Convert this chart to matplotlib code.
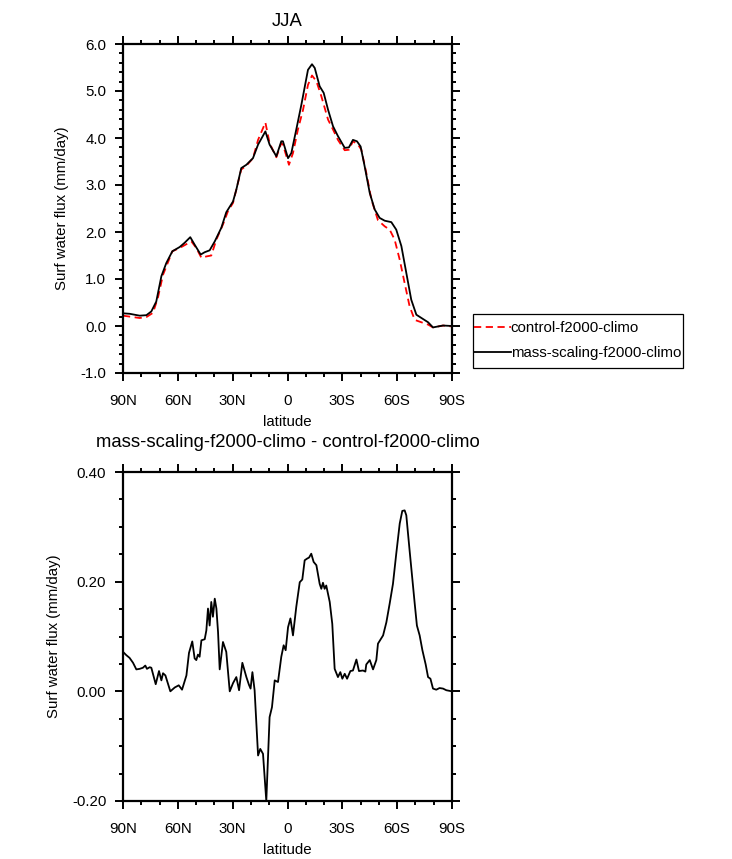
import matplotlib
matplotlib.use('Agg')
import matplotlib.pyplot as plt
from matplotlib.patches import Rectangle
from matplotlib.ticker import MultipleLocator, FormatStrFormatter

plt.rcParams['font.family'] = ['Liberation Sans', 'DejaVu Sans']

# latitude (deg, + is north) and surface water flux (mm/day)
lat_mass = [90.0, 86.4, 80.9, 77.2, 74.5, 71.8, 69.0, 66.3, 63.0, 59.0, 56.3, 53.2,
            50.8, 47.5, 45.3, 42.6, 39.8, 36.2, 33.5, 29.8, 28.0, 25.3, 22.5, 18.9,
            16.1, 12.1, 9.8, 6.1, 3.4, 2.5, -0.3, -2.1, -4.8, -7.6, -11.2, -13.4,
            -14.9, -17.6, -19.8, -22.2, -24.9, -27.6, -31.3, -33.6, -35.8, -38.0,
            -40.0, -42.2, -45.0, -47.7, -50.4, -53.2, -56.8, -59.5, -62.3, -65.0,
            -67.7, -70.5, -74.1, -76.9, -79.6, -82.3, -85.1, -90.0]
flux_mass = [0.27, 0.26, 0.22, 0.23, 0.31, 0.52, 1.06, 1.34, 1.59, 1.68, 1.77, 1.89,
             1.73, 1.52, 1.57, 1.61, 1.80, 2.09, 2.42, 2.65, 2.90, 3.36, 3.43, 3.57,
             3.86, 4.14, 3.86, 3.61, 3.93, 3.93, 3.57, 3.68, 4.18, 4.71, 5.45, 5.57,
             5.49, 5.10, 4.96, 4.60, 4.25, 4.04, 3.79, 3.80, 3.96, 3.93,
             3.82, 3.40, 2.83, 2.48, 2.30, 2.24, 2.21, 2.05, 1.70, 1.13,
             0.56, 0.24, 0.15, 0.08, -0.03, -0.01, 0.01, 0.0]

lat_ctrl = [90.0, 80.9, 77.2, 73.6, 70.9, 68.1, 63.0, 59.0, 52.6, 49.9, 47.1, 44.4,
            41.7, 38.9, 35.3, 32.6, 29.8, 25.3, 22.5, 18.9, 16.1, 12.1, 9.8, 6.1,
            3.4, 2.5, -0.8, -3.0, -5.7, -8.5, -11.2, -13.4, -15.8, -18.5, -22.2,
            -24.9, -27.6, -31.3, -33.6, -35.8, -38.6, -40.4, -43.1, -45.9, -49.5,
            -53.2, -55.9, -58.6, -61.4, -64.1, -66.8, -69.6, -73.2, -76.9, -79.6,
            -85.1, -90.0]
flux_ctrl = [0.22, 0.17, 0.19, 0.28, 0.60, 1.09, 1.59, 1.66, 1.80, 1.66, 1.45, 1.48,
             1.50, 1.84, 2.16, 2.44, 2.62, 3.33, 3.41, 3.57, 3.96, 4.33, 3.89, 3.59,
             3.89, 3.86, 3.43, 3.68, 4.18, 4.60, 5.13, 5.33, 5.21, 4.89, 4.39,
             4.18, 3.96, 3.74, 3.75, 3.93, 3.86, 3.75, 3.26, 2.69, 2.25,
             2.12, 2.05, 1.84, 1.41, 0.91, 0.42, 0.13, 0.08, 0.03, -0.03,
             0.01, -0.01]

lat_diff = [90.0, 88.2, 86.4, 84.5, 82.7, 80.9, 79.1, 77.8, 76.9, 75.4, 74.5, 72.1,
            70.3, 69.0, 68.1, 66.8, 64.1, 61.7, 59.5, 57.7, 55.3, 53.9, 52.1, 50.8,
            49.9, 49.0, 48.1, 47.1, 45.3, 44.4, 43.5, 42.6, 41.7, 40.8, 39.8, 38.9,
            38.0, 37.1, 35.3, 33.5, 31.6, 29.8, 28.0, 26.5, 24.7, 22.5, 21.1, 20.2,
            19.2, 18.0, 16.1, 14.9, 13.4, 11.6, 9.8, 8.5, 7.0, 5.2, 3.4, 2.1, 1.0,
            -0.3, -1.6, -3.0, -4.8, -6.7, -8.1, -9.4, -10.7, -11.8, -13.0, -14.3,
            -15.8, -17.6, -18.5, -19.4, -20.3, -21.2, -23.1, -24.5, -25.8, -27.6,
            -28.9, -30.0, -31.3, -32.6, -34.4, -35.8, -37.7, -39.1, -41.3, -42.6,
            -43.1, -45.0, -46.8, -48.6, -49.5, -52.3, -54.1, -55.9, -57.7, -59.5,
            -61.4, -62.8, -64.1, -65.0, -66.8, -68.1, -69.6, -70.8, -72.3, -73.8,
            -75.6, -76.9, -78.2, -79.6, -81.4, -83.2, -85.1, -86.9, -90.0]
flux_diff = [0.072, 0.066, 0.061, 0.052, 0.040, 0.041, 0.043, 0.047, 0.041, 0.044,
             0.043, 0.013, 0.037, 0.020, 0.033, 0.029, 0.0, 0.007, 0.011, 0.003,
             0.029, 0.070, 0.091, 0.060, 0.057, 0.067, 0.063, 0.093, 0.095, 0.111,
             0.151, 0.120, 0.163, 0.136, 0.169, 0.151, 0.108, 0.040, 0.090, 0.072,
             0.0, 0.015, 0.026, 0.002, 0.052, 0.026, 0.012, 0.005, 0.035, 0.002,
             -0.117, -0.105, -0.114, -0.200, -0.047, -0.029, 0.020, 0.017, 0.063,
             0.084, 0.075, 0.117, 0.133, 0.102, 0.154, 0.199, 0.204, 0.239, 0.242,
             0.244, 0.251, 0.236, 0.230, 0.196, 0.187, 0.198, 0.187, 0.193, 0.163,
             0.123, 0.041, 0.026, 0.035, 0.023, 0.032, 0.023, 0.037, 0.038, 0.058,
             0.037, 0.038, 0.036, 0.049, 0.057, 0.040, 0.057, 0.087, 0.102, 0.126,
             0.160, 0.196, 0.251, 0.306, 0.329, 0.330, 0.321, 0.257, 0.212, 0.160,
             0.120, 0.102, 0.075, 0.049, 0.026, 0.023, 0.005, 0.003, 0.006, 0.005,
             0.002, 0.0]

lat_ticks = [90, 60, 30, 0, -30, -60, -90]
lat_labels = ['90N', '60N', '30N', '0', '30S', '60S', '90S']

W, H = 732, 859
fig = plt.figure(figsize=(W / 100, H / 100), dpi=100)


def box(l, t, r, b):
    return [l / W, 1 - b / H, (r - l) / W, (b - t) / H]


def style(ax, ylo, yhi, ymaj, ymin, fmt):
    ax.set_xlim(90, -90)
    ax.set_ylim(ylo, yhi)
    ax.set_xticks(lat_ticks)
    ax.set_xticklabels(lat_labels)
    ax.xaxis.set_minor_locator(MultipleLocator(10))
    ax.yaxis.set_major_locator(MultipleLocator(ymaj))
    ax.yaxis.set_minor_locator(MultipleLocator(ymin))
    ax.yaxis.set_major_formatter(FormatStrFormatter(fmt))
    ax.tick_params(which='both', direction='out', top=True, right=True,
                   width=1.4, labelsize=10.8)
    ax.tick_params(which='major', length=6)
    ax.tick_params(which='minor', length=3)
    ax.tick_params(axis='x', pad=9)
    ax.tick_params(axis='y', pad=6)
    for s in ax.spines.values():
        s.set_linewidth(1.6)
    ax.set_xlabel('latitude', fontsize=10.8, labelpad=5)
    ax.set_ylabel('Surf water flux (mm/day)', fontsize=10.8, labelpad=8)


ax1 = fig.add_axes(box(123, 44, 452, 373))
ax1.plot(lat_ctrl, flux_ctrl, color='red', lw=1.3, ls=(0, (4, 2.5)),
         label='control-f2000-climo')
ax1.plot(lat_mass, flux_mass, color='black', lw=1.3,
         label='mass-scaling-f2000-climo')
style(ax1, -1.0, 6.0, 1.0, 0.2, '%.1f')
ax1.set_title('JJA', fontsize=13.3, pad=13)

# legend box drawn on its own so it can be tight left/right like the original
fig.patches.append(Rectangle((473 / W, 1 - 368 / H), 210 / W, 54 / H,
                             transform=fig.transFigure, fill=False,
                             edgecolor='black', linewidth=0.9))
fig.legend(loc='upper left', bbox_to_anchor=(474 / W, 1 - 321 / H),
           fontsize=10.8, frameon=False, handlelength=2.45,
           handletextpad=0.0, borderpad=0, borderaxespad=0,
           labelspacing=0.72)

ax2 = fig.add_axes(box(123, 472, 452, 801))
ax2.plot(lat_diff, flux_diff, color='black', lw=1.3)
style(ax2, -0.2, 0.4, 0.2, 0.05, '%.2f')
ax2.set_title('mass-scaling-f2000-climo - control-f2000-climo', fontsize=13.3, pad=18)

fig.savefig('out.png', dpi=100)
